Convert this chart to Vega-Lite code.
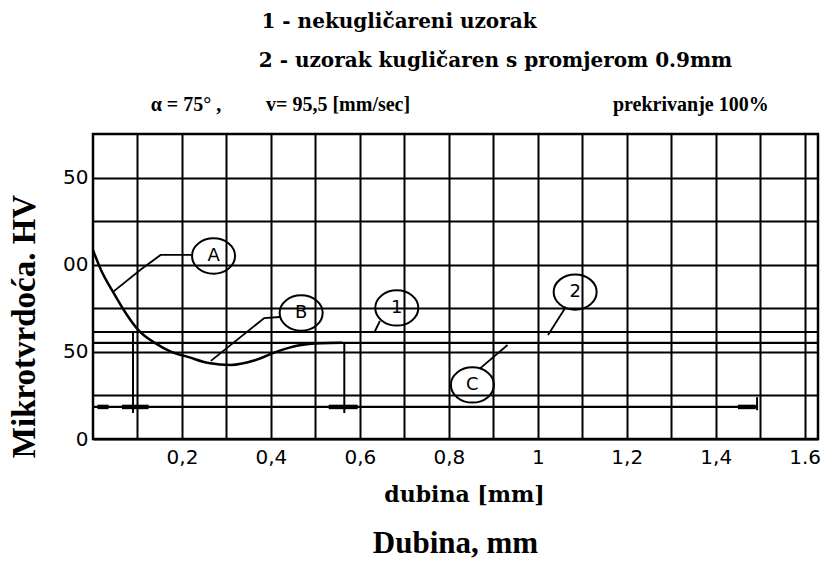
{
  "$schema": "https://vega.github.io/schema/vega-lite/v6.json",
  "width": 725,
  "height": 305,
  "autosize": {"type": "none"},
  "padding": {"left": 93, "top": 134, "right": 6, "bottom": 126},
  "background": "white",
  "config": {"view": {"stroke": "black", "strokeWidth": 2.5}},
  "title": {"text": "Dubina, mm", "orient": "bottom", "anchor": "middle", "font": "Liberation Serif", "fontSize": 31, "fontWeight": "bold", "color": "black", "offset": 24},
  "encoding": {
    "x": {"field": "x", "type": "quantitative",
      "scale": {"domain": [0, 1.63], "nice": false, "zero": false},
      "axis": {"values": [0.1,0.2,0.3,0.4,0.5,0.6,0.7,0.8,0.9,1.0,1.1,1.2,1.3,1.4,1.5,1.6],
        "grid": true, "gridColor": "black", "gridWidth": 2, "gridOpacity": 1,
        "domain": false, "ticks": false,
        "labelExpr": "round(datum.value*10) == 16 ? '1.6' : round(datum.value*10) % 2 == 1 ? '' : round(datum.value*10) == 10 ? '1' : replace(format(datum.value, '.1f'), '.', ',')",
        "labelFont": "DejaVu Sans", "labelFontSize": 20, "labelColor": "black", "labelPadding": 8, "labelDx": -5, "labelOverlap": false, "labelFlush": false,
        "title": "dubina [mm]", "titleFont": "DejaVu Serif", "titleFontSize": 22, "titleFontWeight": "bold", "titleColor": "black",
        "titleX": 371, "titleY": 45, "titleBaseline": "top", "titleAlign": "center"}},
    "y": {"field": "y", "type": "quantitative",
      "scale": {"domain": [0, 175], "nice": false},
      "axis": {"values": [0, 25, 50, 75, 100, 125, 150],
        "grid": true, "gridColor": "black", "gridWidth": 2, "gridOpacity": 1,
        "domain": false, "ticks": false,
        "labelExpr": "datum.value % 50 == 0 ? slice(datum.label, -2) : ''",
        "labelFont": "DejaVu Sans", "labelFontSize": 20, "labelColor": "black", "labelPadding": 5,
        "title": "Mikrotvrdoća. HV", "titleFont": "Liberation Serif", "titleFontSize": 33, "titleFontWeight": "bold", "titleColor": "black",
        "titleX": -52, "titleY": 192, "titleBaseline": "bottom", "titleAlign": "center"}}
  },
  "layer": [
    {
      "data": {"values": [
        {"x": 0, "x2": 1.63, "y": 61.4},
        {"x": 0, "x2": 1.63, "y": 55.1},
        {"x": 0, "x2": 1.493, "y": 18.4}
      ]},
      "mark": {"type": "rule", "color": "black", "strokeWidth": 2.2},
      "encoding": {"x2": {"field": "x2"}}
    },
    {
      "data": {"values": [
        {"x": 0.09, "y": 14.9, "y2": 61.4},
        {"x": 0.565, "y": 14.9, "y2": 55.1},
        {"x": 1.493, "y": 16.5, "y2": 24}
      ]},
      "mark": {"type": "rule", "color": "black", "strokeWidth": 2},
      "encoding": {"y2": {"field": "y2"}}
    },
    {
      "data": {"values": [
        {"x": 0.01, "x2": 0.035, "y": 18.4},
        {"x": 0.065, "x2": 0.125, "y": 18.4},
        {"x": 0.53, "x2": 0.595, "y": 18.4},
        {"x": 1.45, "x2": 1.49, "y": 18.4}
      ]},
      "mark": {"type": "rule", "color": "black", "strokeWidth": 4.5},
      "encoding": {"x2": {"field": "x2"}}
    },
    {
      "data": {"values": [
        {"x": 0, "y": 108.4},
        {"x": 0.018, "y": 97},
        {"x": 0.045, "y": 84.4},
        {"x": 0.072, "y": 72.9},
        {"x": 0.102, "y": 62.5},
        {"x": 0.14, "y": 55},
        {"x": 0.176, "y": 50},
        {"x": 0.215, "y": 47},
        {"x": 0.26, "y": 43.6},
        {"x": 0.31, "y": 42.5},
        {"x": 0.362, "y": 45},
        {"x": 0.412, "y": 50},
        {"x": 0.461, "y": 53.6},
        {"x": 0.513, "y": 55},
        {"x": 0.56, "y": 55.2}
      ]},
      "mark": {"type": "line", "color": "black", "strokeWidth": 2.5, "interpolate": "monotone"}
    },
    {
      "data": {"values": [
        {"id": "A", "o": 1, "x": 0.045, "y": 84.4},
        {"id": "A", "o": 2, "x": 0.109, "y": 97.5},
        {"id": "A", "o": 3, "x": 0.152, "y": 105.6},
        {"id": "A", "o": 4, "x": 0.225, "y": 105.6},
        {"id": "B", "o": 1, "x": 0.265, "y": 44.8},
        {"id": "B", "o": 2, "x": 0.385, "y": 69.4},
        {"id": "B", "o": 3, "x": 0.42, "y": 70},
        {"id": "1", "o": 1, "x": 0.645, "y": 67.7},
        {"id": "1", "o": 2, "x": 0.633, "y": 61.4},
        {"id": "2", "o": 1, "x": 1.063, "y": 75.7},
        {"id": "2", "o": 2, "x": 1.023, "y": 59.7},
        {"id": "C", "o": 1, "x": 0.869, "y": 40.2},
        {"id": "C", "o": 2, "x": 0.932, "y": 53.9}
      ]},
      "mark": {"type": "line", "color": "black", "strokeWidth": 1.8},
      "encoding": {"detail": {"field": "id"}, "order": {"field": "o", "type": "quantitative"}}
    },
    {
      "data": {"name": "labels", "values": [
        {"t": "A", "x": 0.271, "y": 105},
        {"t": "B", "x": 0.468, "y": 72.3},
        {"t": "1", "x": 0.683, "y": 75.2},
        {"t": "2", "x": 1.084, "y": 84.3},
        {"t": "C", "x": 0.853, "y": 31}
      ]},
      "layer": [
        {
          "mark": {"type": "point", "shape": "M -1 0 A 1 0.82 0 1 1 1 0 A 1 0.82 0 1 1 -1 0 Z", "size": 1850, "filled": false, "stroke": "black", "strokeWidth": 2, "opacity": 1}
        },
        {
          "mark": {"type": "text", "font": "DejaVu Sans", "fontSize": 18, "color": "black", "baseline": "middle", "align": "center"},
          "encoding": {"text": {"field": "t"}}
        }
      ]
    },
    {
      "data": {"values": [
        {"t": "1 - nekugličareni uzorak", "x": 0.688, "y": 239.3},
        {"t": "2 - uzorak kugličaren s promjerom 0.9mm", "x": 0.905, "y": 216.9}
      ]},
      "mark": {"type": "text", "font": "DejaVu Serif", "fontSize": 20, "fontWeight": "bold", "color": "black", "baseline": "middle", "align": "center"},
      "encoding": {"text": {"field": "t"}}
    },
    {
      "data": {"values": [
        {"t": "α = 75° ,", "x": 0.209, "y": 191.6},
        {"t": "v= 95,5 [mm/sec]", "x": 0.551, "y": 191.6},
        {"t": "prekrivanje 100%", "x": 1.344, "y": 191.6}
      ]},
      "mark": {"type": "text", "font": "Liberation Serif", "fontSize": 20, "fontWeight": "bold", "color": "black", "baseline": "middle", "align": "center"},
      "encoding": {"text": {"field": "t"}}
    }
  ]
}
